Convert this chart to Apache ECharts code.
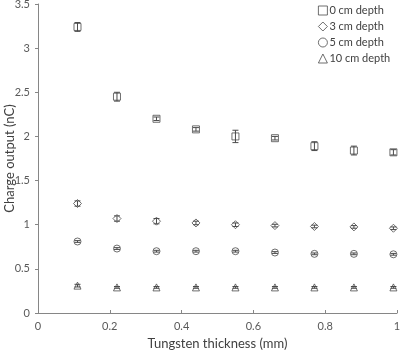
<!DOCTYPE html>
<html><head><meta charset="utf-8">
<script src="https://cdn.jsdelivr.net/npm/echarts@6/dist/echarts.min.js"></script>
<style>html,body{margin:0;padding:0;background:#fff}#c{width:400px;height:350px}</style>
</head><body><div id="c"></div>
<script>
const thickness = [0.11, 0.22, 0.33, 0.44, 0.55, 0.66, 0.77, 0.88, 0.99];
const depth0 = [3.24, 2.45, 2.20, 2.08, 2.00, 1.98, 1.89, 1.84, 1.82];
const err0   = [0.05, 0.05, 0.02, 0.02, 0.07, 0.02, 0.05, 0.05, 0.03];
const depth3 = [1.24, 1.07, 1.04, 1.02, 1.00, 0.99, 0.98, 0.975, 0.96];
const err3   = [0.03, 0.03, 0.03, 0.02, 0.02, 0.015, 0.015, 0.015, 0.015];
const depth5 = [0.81, 0.73, 0.70, 0.70, 0.70, 0.685, 0.67, 0.67, 0.665];
const err5   = [0.01, 0.01, 0.01, 0.01, 0.01, 0.01, 0.01, 0.01, 0.01];
const depth10 = [0.31, 0.29, 0.29, 0.29, 0.29, 0.29, 0.29, 0.29, 0.29];
const err10   = [0.015, 0.01, 0.01, 0.01, 0.01, 0.01, 0.01, 0.01, 0.01];
const names = ['0 cm depth', '3 cm depth', '5 cm depth', '10 cm depth'];
const symbols = ['rect', 'diamond', 'circle', 'triangle'];

const values = [depth0, depth3, depth5, depth10];
const errs = [err0, err3, err5, err10];
const font = 'Lato';
const ink = '#4a4a4a';

const series = [];
values.forEach((vals, i) => {
  series.push({
    name: names[i], type: 'scatter', symbol: symbols[i], symbolSize: i === 1 ? 8 : 7,
    data: thickness.map((x, k) => [x, vals[k]]),
    itemStyle: { color: 'rgba(255,255,255,0)', borderColor: ink, borderWidth: 0.8, opacity: 1 },
    z: 3
  });
  series.push({
    type: 'custom', name: names[i] + ' err', silent: true, z: 4,
    data: thickness.map((x, k) => [x, vals[k] - errs[i][k], vals[k] + errs[i][k]]),
    renderItem: function (params, api) {
      const lo = api.coord([api.value(0), api.value(1)]);
      const hi = api.coord([api.value(0), api.value(2)]);
      const w = 3;
      const st = { stroke: ink, lineWidth: 1, fill: null };
      return { type: 'group', children: [
        { type: 'line', shape: { x1: lo[0], y1: lo[1], x2: hi[0], y2: hi[1] }, style: st },
        { type: 'line', shape: { x1: lo[0] - w, y1: lo[1], x2: lo[0] + w, y2: lo[1] }, style: st },
        { type: 'line', shape: { x1: hi[0] - w, y1: hi[1], x2: hi[0] + w, y2: hi[1] }, style: st }
      ]};
    }
  });
});

const chart = echarts.init(document.getElementById('c'));
chart.setOption({
  animation: false,
  textStyle: { fontFamily: font },
  grid: { left: 38, right: 3, top: 4, bottom: 37, containLabel: false, outerBoundsMode: 'none' },
  legend: {
    data: names, orient: 'vertical', left: 313, top: 0, itemGap: 5,
    itemWidth: 9, itemHeight: 9,
    itemStyle: { color: 'rgba(255,255,255,0)', borderColor: ink, borderWidth: 0.8 },
    textStyle: { fontFamily: font, fontSize: 11, color: '#404040', padding: [0, 0, 0, -3] }
  },
  xAxis: {
    type: 'value', min: 0, max: 1, interval: 0.2,
    name: 'Tungsten thickness (mm)', nameLocation: 'middle', nameGap: 24,
    nameTextStyle: { fontFamily: font, fontSize: 13, color: '#404040' },
    axisLine: { lineStyle: { color: '#868686' } },
    axisTick: { inside: true, length: 3, lineStyle: { color: '#868686' } },
    axisLabel: { fontFamily: font, fontSize: 11, color: '#595959', margin: 8 },
    splitLine: { show: false }
  },
  yAxis: {
    type: 'value', min: 0, max: 3.5, interval: 0.5,
    name: 'Charge output (nC)', nameLocation: 'middle', nameGap: 22, nameMoveOverlap: false,
    nameTextStyle: { fontFamily: font, fontSize: 13, color: '#404040' },
    axisLine: { show: true, lineStyle: { color: '#868686' } },
    axisTick: { show: true, length: 3, lineStyle: { color: '#868686' } },
    axisLabel: { fontFamily: font, fontSize: 11, color: '#595959', margin: 8 },
    splitLine: { show: false }
  },
  series: series
});
</script></body></html>
